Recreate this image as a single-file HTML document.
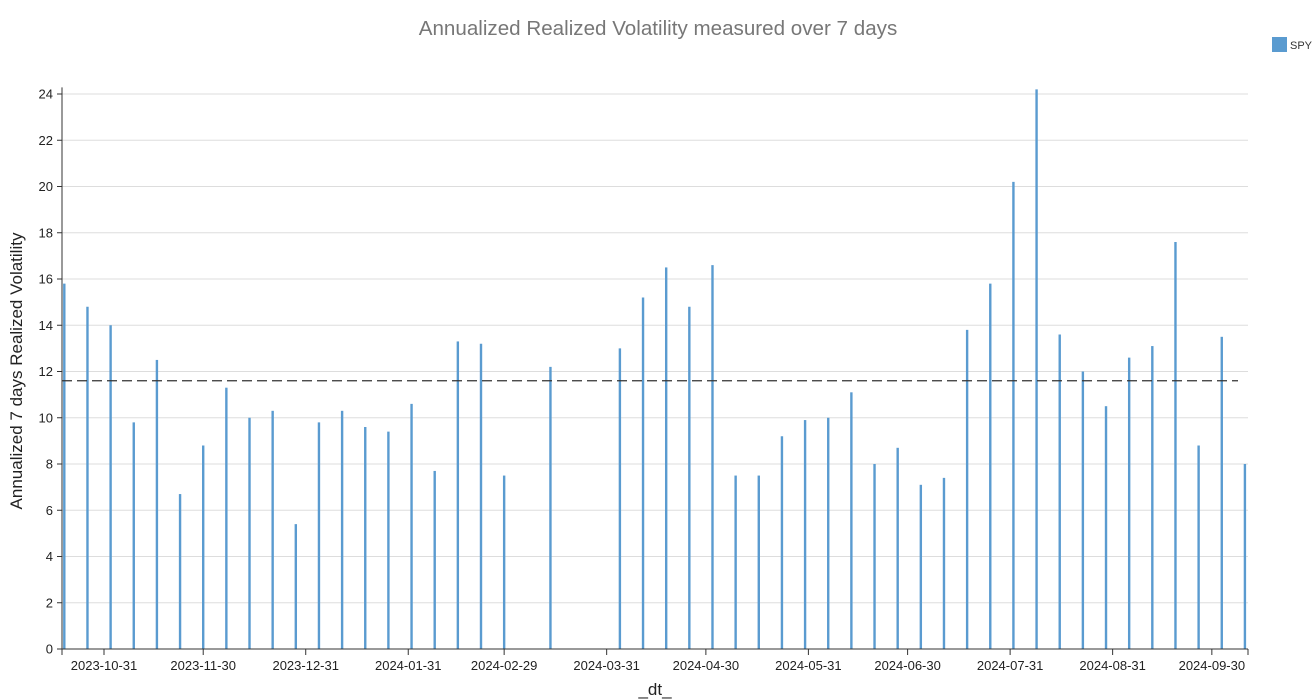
<!DOCTYPE html>
<html><head><meta charset="utf-8"><style>
html,body{margin:0;padding:0;background:#fff;}
svg{display:block;font-family:"Liberation Sans",sans-serif;}
</style></head><body>
<svg id="chart" width="1316" height="700">
<text x="658" y="35" text-anchor="middle" font-size="20.6" fill="#777">Annualized Realized Volatility measured over 7 days</text>
<g>
<rect x="1272" y="37" width="15" height="15" fill="#5a9bd0"></rect>
<text x="1290" y="49" font-size="11" fill="#333">SPY</text>
</g>
<g id="grid"></g>
<g id="bars"></g>
<g id="axes"></g>
<text transform="translate(22,371) rotate(-90)" text-anchor="middle" font-size="17" fill="#222">Annualized 7 days Realized Volatility</text>
<text x="655" y="695" text-anchor="middle" font-size="17" fill="#222">_dt_</text>
</svg>
<script>
const dates = ["2023-10-19","2023-10-26","2023-11-02","2023-11-09","2023-11-16","2023-11-23","2023-11-30","2023-12-07","2023-12-14","2023-12-21","2023-12-28","2024-01-04","2024-01-11","2024-01-18","2024-01-25","2024-02-01","2024-02-08","2024-02-15","2024-02-22","2024-02-29","2024-03-14","2024-04-04","2024-04-11","2024-04-18","2024-04-25","2024-05-02","2024-05-09","2024-05-16","2024-05-23","2024-05-30","2024-06-06","2024-06-13","2024-06-20","2024-06-27","2024-07-04","2024-07-11","2024-07-18","2024-07-25","2024-08-01","2024-08-08","2024-08-15","2024-08-22","2024-08-29","2024-09-05","2024-09-12","2024-09-19","2024-09-26","2024-10-03","2024-10-10"];
const spyVol = [15.8,14.8,14.0,9.8,12.5,6.7,8.8,11.3,10.0,10.3,5.4,9.8,10.3,9.6,9.4,10.6,7.7,13.3,13.2,7.5,12.2,13.0,15.2,16.5,14.8,16.6,7.5,7.5,9.2,9.9,10.0,11.1,8.0,8.7,7.1,7.4,13.8,15.8,20.2,24.2,13.6,12.0,10.5,12.6,13.1,17.6,8.8,13.5,8.0];
const meanVol = [11.6];
const yTicks = [0,2,4,6,8,10,12,14,16,18,20,22,24];
const xTicks = ["2023-10-31","2023-11-30","2023-12-31","2024-01-31","2024-02-29","2024-03-31","2024-04-30","2024-05-31","2024-06-30","2024-07-31","2024-08-31","2024-09-30"];

const NS="http://www.w3.org/2000/svg";
const X0=62, X1=1248, Y0=649;
const refT=Date.parse("2023-10-31"), refX=104, pxPerDay=3.307;
function xs(d){return refX+(Date.parse(d)-refT)/86400000*pxPerDay;}
function ys(v){return Y0-v*23.125;}
function mk(tag,attrs,parent){const e=document.createElementNS(NS,tag);for(const k in attrs)e.setAttribute(k,attrs[k]);parent.appendChild(e);return e;}
const grid=document.getElementById('grid'),bars=document.getElementById('bars'),axes=document.getElementById('axes');
yTicks.forEach(t=>{
  const l=mk('line',{x1:X0,x2:X1,y1:ys(t),y2:ys(t),stroke:'#ddd','stroke-width':1},grid);
  
  
  const tk=mk('line',{x1:X0-5,x2:X0,y1:ys(t),y2:ys(t),stroke:'#333'},axes);
  
  
  const tx=mk('text',{x:X0-9,y:ys(t)+4.5,'text-anchor':'end','font-size':13,fill:'#222'},axes);
  tx.textContent=t;
  
  
});
dates.forEach((d,i)=>{
  const r=mk('rect',{x:xs(d)-1.2,y:ys(spyVol[i]),width:2.4,height:Y0-ys(spyVol[i]),fill:'#5a9bd0'},bars);
  
  
});
const m=mk('line',{x1:X0,x2:X1-10,y1:ys(meanVol[0]),y2:ys(meanVol[0]),stroke:'#333','stroke-width':1.2,'stroke-dasharray':'10,5'},bars);


const ya=mk('line',{x1:X0,x2:X0,y1:ys(24.2)-2,y2:Y0,stroke:'#333'},axes);


const xa=mk('line',{x1:X0,x2:X1,y1:Y0,y2:Y0,stroke:'#333'},axes);


[X0,X1].forEach(x=>{const e=mk('line',{x1:x,x2:x,y1:Y0,y2:Y0+6,stroke:'#333'},axes);

});
xTicks.forEach(d=>{
  const x=xs(d);
  const tk=mk('line',{x1:x,x2:x,y1:Y0,y2:Y0+6,stroke:'#333'},axes);
  
  
  const tx=mk('text',{x:x,y:Y0+21,'text-anchor':'middle','font-size':13,fill:'#222'},axes);
  tx.textContent=d;
  
  
});
</script>
</body></html>
